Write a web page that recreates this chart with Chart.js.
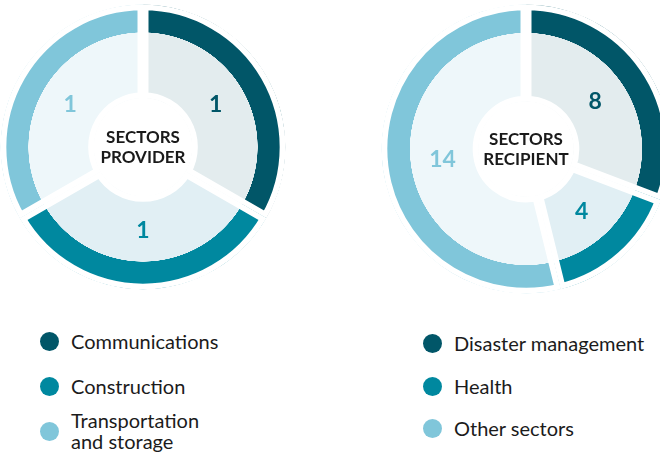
<!DOCTYPE html>
<html><head><meta charset="utf-8">
<script src="https://cdn.jsdelivr.net/npm/chart.js@4"></script>
<style>
html,body{margin:0;padding:0;width:660px;height:453px;overflow:hidden;background:#fff;font-family:Lato,sans-serif;}
.wrap{position:absolute;width:290px;height:290px;}
.legend{position:absolute;width:240px;}
.item{position:absolute;left:0;display:flex;align-items:center;height:44px;}
.dot{width:19px;height:19px;border-radius:50%;flex:none;margin-right:12.5px;}
.txt{font-size:20px;line-height:21px;color:#1b1b1b;}
#leg1 .txt{max-width:160px;}
#leg2 .txt{white-space:nowrap;}
</style></head><body>
<div class="wrap" style="left:-2px;top:1.5px"><canvas id="c1" width="290" height="290"></canvas></div>
<div class="wrap" style="left:381px;top:4px"><canvas id="c2" width="290" height="290"></canvas></div>
<div id="leg1" class="legend" style="left:39.5px;top:319px"></div>
<div id="leg2" class="legend" style="left:422.5px;top:321.5px"></div>
<script>
// ---- data ----
const providerCategories = ['Communications', 'Construction', 'Transportation and storage'];
const providerValues = [1, 1, 1];
const providerTitle = ['SECTORS', 'PROVIDER'];

const recipientCategories = ['Disaster management', 'Health', 'Other sectors'];
const recipientValues = [8, 4, 14];
const recipientTitle = ['SECTORS', 'RECIPIENT'];

const ringColors = ['#015668', '#00889f', '#80c6da'];
const fillColors = ['#e3ecee', '#e1eff4', '#eef7fa'];

// ---- helpers ----
const GAP = 11;

function gradFor(c, g) {
  const i = (c.dataIndex === undefined) ? 0 : c.dataIndex;
  const chart = c.chart, ca = chart.chartArea;
  if (!ca) return ringColors[i];
  const cx = (ca.left + ca.right) / 2, cy = (ca.top + ca.bottom) / 2;
  const Rg = g.R + 20;
  const gr = chart.ctx.createRadialGradient(cx, cy, 0, cx, cy, Rg);
  const s = (g.R - g.ring) / Rg;
  gr.addColorStop(0, fillColors[i]);
  gr.addColorStop(s, fillColors[i]);
  gr.addColorStop(Math.min(s + 0.002, 1), ringColors[i]);
  gr.addColorStop(1, ringColors[i]);
  return gr;
}

function labelPlugin(g, title) {
  return {
    id: 'arcLabels',
    afterDatasetsDraw(chart) {
      const ctx = chart.ctx;
      const meta = chart.getDatasetMeta(0);
      const values = chart.data.datasets[0].data;
      ctx.save();
      ctx.textAlign = 'center';
      ctx.textBaseline = 'middle';
      ctx.font = 'bold 23px Lato';
      meta.data.forEach((el, i) => {
        const mid = (el.startAngle + el.endAngle) / 2;
        const x = el.x + Math.cos(mid) * g.labelR;
        const y = el.y + Math.sin(mid) * g.labelR;
        ctx.fillStyle = ringColors[i];
        ctx.fillText(String(values[i]), x, y);
      });
      const ca = chart.chartArea;
      const cx = (ca.left + ca.right) / 2, cy = (ca.top + ca.bottom) / 2;
      ctx.font = 'bold 17px Lato';
      ctx.fillStyle = '#1a1a1a';
      ctx.fillText(title[0], cx, cy - 9.5);
      ctx.fillText(title[1], cx, cy + 10.5);
      ctx.restore();
    }
  };
}

function makeChart(id, labels, values, title, g) {
  return new Chart(document.getElementById(id), {
    type: 'doughnut',
    data: {
      labels: labels,
      datasets: [{
        data: values,
        backgroundColor: (c) => gradFor(c, g),
        borderColor: '#ffffff',
        borderWidth: GAP / 2,
        borderAlign: 'inner',
        hoverOffset: 0
      }]
    },
    options: {
      responsive: false,
      animation: false,
      events: [],
      radius: g.R + GAP / 2,
      cutout: ((g.hole - GAP / 2) / (g.R + GAP / 2) * 100) + '%',
      layout: { padding: 0 },
      plugins: { legend: { display: false }, tooltip: { enabled: false } }
    },
    plugins: [labelPlugin(g, title)]
  });
}

makeChart('c1', providerCategories, providerValues, providerTitle, { R: 137, ring: 22.5, hole: 54.5, labelR: 84 });
makeChart('c2', recipientCategories, recipientValues, recipientTitle, { R: 139, ring: 23, hole: 53, labelR: 84 });

function buildLegend(elId, cats, step) {
  const el = document.getElementById(elId);
  cats.forEach((name, i) => {
    const item = document.createElement('div');
    item.className = 'item';
    item.style.top = (i * step) + 'px';
    const dot = document.createElement('span');
    dot.className = 'dot';
    dot.style.background = ringColors[i];
    const txt = document.createElement('span');
    txt.className = 'txt';
    txt.textContent = name;
    item.appendChild(dot);
    item.appendChild(txt);
    el.appendChild(item);
  });
}
buildLegend('leg1', providerCategories, 45);
buildLegend('leg2', recipientCategories, 42.5);
</script>
</body></html>
